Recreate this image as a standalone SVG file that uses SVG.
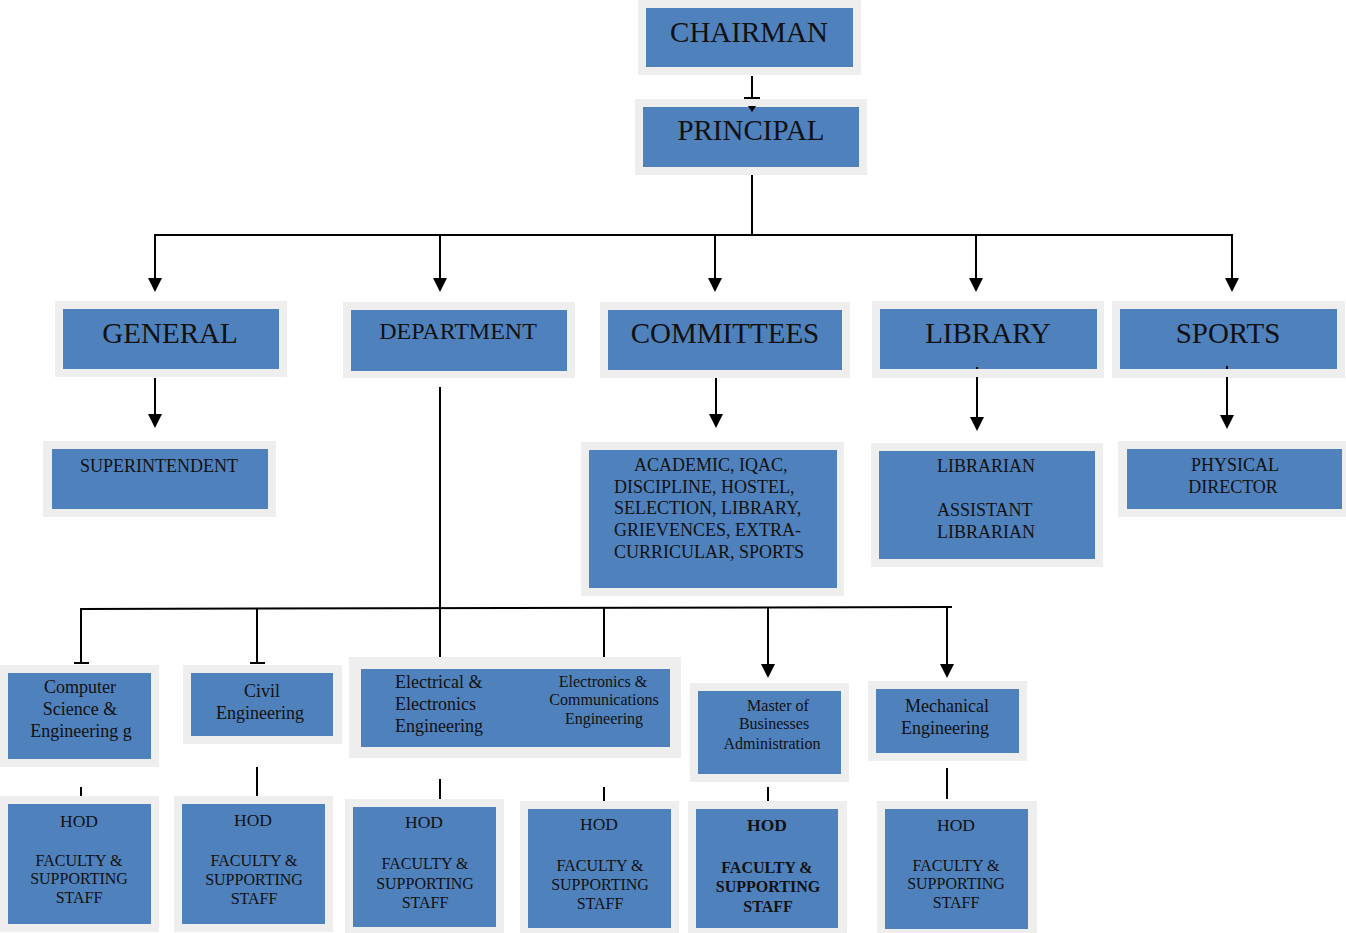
<svg xmlns="http://www.w3.org/2000/svg" width="1346" height="933" viewBox="0 0 1346 933">
<defs>
<style>
.fr{fill:#eeeeee}
.bx{fill:#4f81bd}
text{font-family:"Liberation Serif","Times New Roman",serif;fill:#111;text-anchor:middle}
.t29{font-size:29px}
.t24{font-size:24px}
.t18{font-size:18px}
.t16{font-size:16px}
.h17{font-size:17.5px}
.b{font-weight:bold}
.ln{stroke:#000;stroke-width:2;fill:none}
</style>
<marker id="ah" markerUnits="userSpaceOnUse" markerWidth="16" markerHeight="16" refX="12" refY="7" orient="auto">
<path d="M0,0 L14,7 L0,14 z" fill="#000"/>
</marker>
</defs>
<rect width="1346" height="933" fill="#fff"/>

<g id="chairman">
<rect class="fr" x="638" y="0" width="223" height="75"/>
<rect class="bx" x="646" y="8" width="207" height="59"/>
<text class="t29" x="749" y="42">CHAIRMAN</text>
</g>
<g id="principal">
<rect class="fr" x="635" y="99" width="232" height="76"/>
<rect class="bx" x="643" y="107" width="216" height="60"/>
<text class="t29" x="751" y="140">PRINCIPAL</text>
</g>

<g id="general">
<rect class="fr" x="55" y="301" width="232" height="76"/>
<rect class="bx" x="63" y="309" width="216" height="60"/>
<text class="t29" x="170" y="343">GENERAL</text>
</g>
<g id="department">
<rect class="fr" x="343" y="302" width="232" height="76"/>
<rect class="bx" x="351" y="310" width="216" height="61"/>
<text class="t24" x="458" y="339">DEPARTMENT</text>
</g>
<g id="committees">
<rect class="fr" x="600" y="302" width="250" height="76"/>
<rect class="bx" x="608" y="310" width="234" height="60"/>
<text class="t29" x="725" y="343">COMMITTEES</text>
</g>
<g id="library">
<rect class="fr" x="872" y="301" width="232" height="77"/>
<rect class="bx" x="880" y="309" width="217" height="60"/>
<text class="t29" x="988" y="343">LIBRARY</text>
</g>
<g id="sports">
<rect class="fr" x="1112" y="301" width="233" height="77"/>
<rect class="bx" x="1120" y="309" width="217" height="60"/>
<text class="t29" x="1228" y="343">SPORTS</text>
</g>

<g id="superintendent">
<rect class="fr" x="43" y="441" width="233" height="76"/>
<rect class="bx" x="52" y="449" width="216" height="60"/>
<text class="t18" x="159" y="472">SUPERINTENDENT</text>
</g>
<g id="committee-list">
<rect class="fr" x="581" y="442" width="263" height="154"/>
<rect class="bx" x="589" y="450" width="248" height="138"/>
<text class="t18" style="text-anchor:start" x="634" y="471">ACADEMIC, IQAC,</text>
<text class="t18" style="text-anchor:start" x="614" y="493">DISCIPLINE, HOSTEL,</text>
<text class="t18" style="text-anchor:start" x="614" y="514">SELECTION, LIBRARY,</text>
<text class="t18" style="text-anchor:start" x="614" y="536">GRIEVENCES, EXTRA-</text>
<text class="t18" style="text-anchor:start" x="614" y="558">CURRICULAR, SPORTS</text>
</g>
<g id="librarian">
<rect class="fr" x="871" y="443" width="232" height="124"/>
<rect class="bx" x="879" y="451" width="216" height="108"/>
<text class="t18" style="text-anchor:start" x="937" y="472">LIBRARIAN</text>
<text class="t18" style="text-anchor:start" x="937" y="516">ASSISTANT</text>
<text class="t18" style="text-anchor:start" x="937" y="538">LIBRARIAN</text>
</g>
<g id="physical-director">
<rect class="fr" x="1118" y="441" width="228" height="76"/>
<rect class="bx" x="1127" y="449" width="215" height="60"/>
<text class="t18" x="1235" y="471">PHYSICAL</text>
<text class="t18" x="1233" y="493">DIRECTOR</text>
</g>

<g id="cse">
<rect class="fr" x="0" y="665" width="159" height="102"/>
<rect class="bx" x="8" y="673" width="143" height="86"/>
<text class="t18" x="80" y="693">Computer</text>
<text class="t18" x="80" y="715">Science &amp;</text>
<text class="t18" x="81" y="737">Engineering g</text>
</g>
<g id="civil">
<rect class="fr" x="183" y="665" width="159" height="79"/>
<rect class="bx" x="191" y="673" width="142" height="63"/>
<text class="t18" x="262" y="697">Civil</text>
<text class="t18" x="260" y="719">Engineering</text>
</g>
<g id="eee-ece">
<rect class="fr" x="349" y="657" width="332" height="101"/>
<rect class="bx" x="361" y="669" width="309" height="78"/>
<text class="t18" style="text-anchor:start" x="395" y="688">Electrical &amp;</text>
<text class="t18" style="text-anchor:start" x="395" y="710">Electronics</text>
<text class="t18" style="text-anchor:start" x="395" y="732">Engineering</text>
<text class="t16" x="603" y="687">Electronics &amp;</text>
<text class="t16" x="604" y="705">Communications</text>
<text class="t16" x="604" y="724">Engineering</text>
</g>
<g id="mba">
<rect class="fr" x="690" y="683" width="159" height="99"/>
<rect class="bx" x="698" y="691" width="143" height="83"/>
<text class="t16" x="778" y="711">Master of</text>
<text class="t16" x="774" y="729">Businesses</text>
<text class="t16" x="772" y="749">Administration</text>
</g>
<g id="mech">
<rect class="fr" x="868" y="681" width="159" height="80"/>
<rect class="bx" x="876" y="689" width="143" height="64"/>
<text class="t18" x="947" y="712">Mechanical</text>
<text class="t18" x="945" y="734">Engineering</text>
</g>

<g id="hod-cse">
<rect class="fr" x="0" y="796" width="159" height="136"/>
<rect class="bx" x="8" y="804" width="143" height="120"/>
<text class="h17" x="79" y="827">HOD</text>
<text class="t16" x="79" y="866">FACULTY &amp;</text>
<text class="t16" x="79" y="884">SUPPORTING</text>
<text class="t16" x="79" y="903">STAFF</text>
</g>
<g id="hod-civil">
<rect class="fr" x="174" y="796" width="159" height="136"/>
<rect class="bx" x="182" y="804" width="143" height="120"/>
<text class="h17" x="253" y="826">HOD</text>
<text class="t16" x="254" y="866">FACULTY &amp;</text>
<text class="t16" x="254" y="885">SUPPORTING</text>
<text class="t16" x="254" y="904">STAFF</text>
</g>
<g id="hod-eee">
<rect class="fr" x="345" y="799" width="159" height="134"/>
<rect class="bx" x="353" y="807" width="143" height="120"/>
<text class="h17" x="424" y="828">HOD</text>
<text class="t16" x="425" y="869">FACULTY &amp;</text>
<text class="t16" x="425" y="889">SUPPORTING</text>
<text class="t16" x="425" y="908">STAFF</text>
</g>
<g id="hod-ece">
<rect class="fr" x="520" y="801" width="159" height="132"/>
<rect class="bx" x="528" y="809" width="143" height="119"/>
<text class="h17" x="599" y="830">HOD</text>
<text class="t16" x="600" y="871">FACULTY &amp;</text>
<text class="t16" x="600" y="890">SUPPORTING</text>
<text class="t16" x="600" y="909">STAFF</text>
</g>
<g id="hod-mba">
<rect class="fr" x="688" y="801" width="159" height="132"/>
<rect class="bx" x="696" y="809" width="142" height="119"/>
<text class="h17 b" x="767" y="831">HOD</text>
<text class="t16 b" x="767" y="873">FACULTY &amp;</text>
<text class="t16 b" x="768" y="892">SUPPORTING</text>
<text class="t16 b" x="768" y="912">STAFF</text>
</g>
<g id="hod-mech">
<rect class="fr" x="877" y="801" width="160" height="132"/>
<rect class="bx" x="885" y="809" width="143" height="120"/>
<text class="h17" x="956" y="831">HOD</text>
<text class="t16" x="956" y="871">FACULTY &amp;</text>
<text class="t16" x="956" y="889">SUPPORTING</text>
<text class="t16" x="956" y="908">STAFF</text>
</g>

<g id="connectors">
<line class="ln" x1="752" y1="76" x2="752" y2="98"/>
<line class="ln" x1="744" y1="98" x2="760" y2="98"/>
<path d="M748,106 L756,106 L752,112 z" fill="#000"/>
<line class="ln" x1="752" y1="175" x2="752" y2="235"/>
<line class="ln" x1="154" y1="235" x2="1233" y2="235"/>
<line class="ln" x1="155" y1="235" x2="155" y2="290" marker-end="url(#ah)"/>
<line class="ln" x1="440" y1="235" x2="440" y2="290" marker-end="url(#ah)"/>
<line class="ln" x1="715" y1="235" x2="715" y2="290" marker-end="url(#ah)"/>
<line class="ln" x1="976" y1="235" x2="976" y2="290" marker-end="url(#ah)"/>
<line class="ln" x1="1232" y1="235" x2="1232" y2="290" marker-end="url(#ah)"/>
<line class="ln" x1="155" y1="378" x2="155" y2="426" marker-end="url(#ah)"/>
<line class="ln" x1="716" y1="378" x2="716" y2="426" marker-end="url(#ah)"/>
<rect x="976" y="367" width="2" height="2" fill="#000"/>
<line class="ln" x1="977" y1="377" x2="977" y2="429" marker-end="url(#ah)"/>
<rect x="1226" y="366" width="2" height="3" fill="#000"/>
<line class="ln" x1="1227" y1="377" x2="1227" y2="427" marker-end="url(#ah)"/>
<line class="ln" x1="440" y1="387" x2="440" y2="657"/>
<line class="ln" x1="80" y1="609" x2="952" y2="607"/>
<line class="ln" x1="81" y1="609" x2="81" y2="663"/>
<line class="ln" x1="74" y1="663" x2="89" y2="663"/>
<line class="ln" x1="257" y1="608" x2="257" y2="663"/>
<line class="ln" x1="250" y1="663" x2="265" y2="663"/>
<line class="ln" x1="604" y1="608" x2="604" y2="657"/>
<line class="ln" x1="768" y1="607" x2="768" y2="676" marker-end="url(#ah)"/>
<line class="ln" x1="947" y1="607" x2="947" y2="676" marker-end="url(#ah)"/>
<line class="ln" x1="81" y1="787" x2="81" y2="796"/>
<line class="ln" x1="257" y1="767" x2="257" y2="796"/>
<line class="ln" x1="440" y1="779" x2="440" y2="799"/>
<line class="ln" x1="604" y1="787" x2="604" y2="801"/>
<line class="ln" x1="768" y1="787" x2="768" y2="801"/>
<line class="ln" x1="947" y1="768" x2="947" y2="799"/>
</g>
</svg>
